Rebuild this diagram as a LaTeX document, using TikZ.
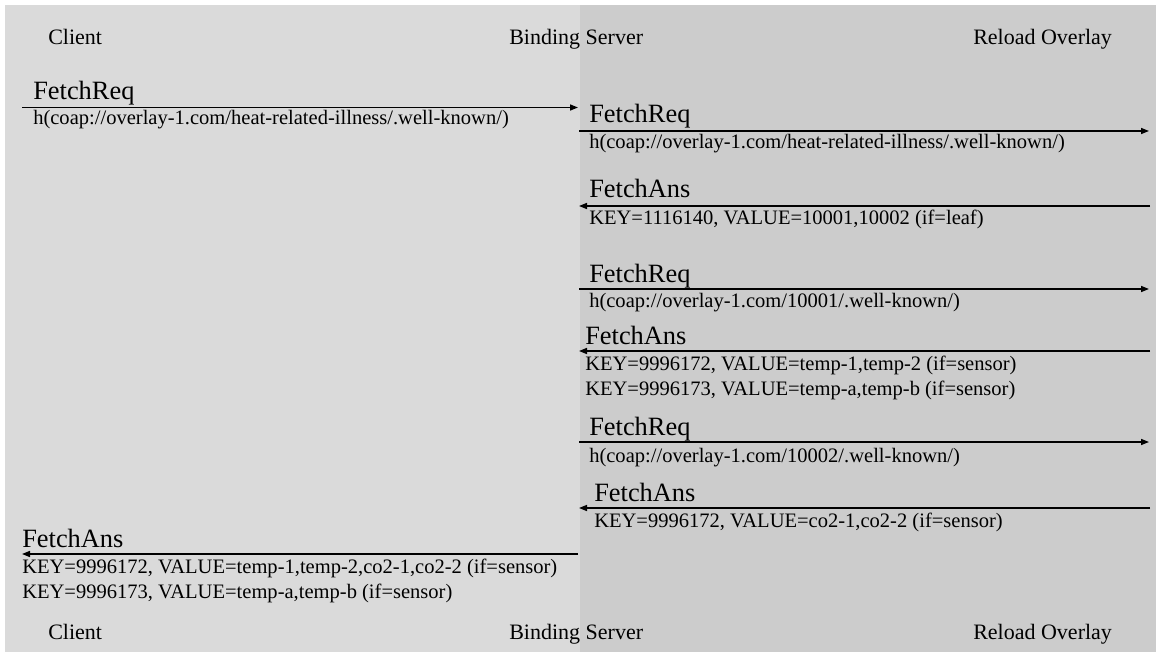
\documentclass[tikz,border=0pt]{standalone}
\usepackage{fontspec}
\setmainfont{Liberation Serif}
\usetikzlibrary{arrows.meta}
\definecolor{lightbg}{HTML}{DADADA}
\definecolor{darkbg}{HTML}{CCCCCC}
\tikzset{
  hdr/.style={anchor=base west, inner sep=0pt, font=\fontsize{16.5pt}{18pt}\selectfont},
  big/.style={anchor=base west, inner sep=0pt, font=\fontsize{19.8pt}{22pt}\selectfont},
  small/.style={anchor=base west, inner sep=0pt, font=\fontsize{15.4pt}{17pt}\selectfont},
  msg/.style={line width=1.1pt, -{Triangle[length=6pt,width=4.5pt]}}
}
\begin{document}
\begin{tikzpicture}[x=0.75pt,y=-0.75pt]
\useasboundingbox (0,0) rectangle (1156,652);
\fill[white] (0,0) rectangle (1156,652);
\fill[lightbg] (5,5) rectangle (580,652);
\fill[darkbg] (580,5) rectangle (1156,652);

% headers and footers
\node[hdr] (hc) at (48,45) {Client};
\node[hdr] (hb) at (509,45) {Binding Server};
\node[hdr] (hr) at (973,45) {Reload Overlay};
\node[hdr] (fc) at (48,639) {Client};
\node[hdr] (fb) at (509,639) {Binding Server};
\node[hdr] (fr) at (973,639) {Reload Overlay};

% endpoints
\coordinate (c1) at (22,107.5);   \coordinate (b1) at (578,107.5);
\coordinate (b2) at (579,131);    \coordinate (r2) at (1149,131);
\coordinate (r3) at (1150,206);   \coordinate (b3) at (579,206);
\coordinate (b4) at (579,289);    \coordinate (r4) at (1149,289);
\coordinate (r5) at (1150,351);   \coordinate (b5) at (579,351);
\coordinate (b6) at (579,442);    \coordinate (r6) at (1149,442);
\coordinate (r7) at (1150,508);   \coordinate (b7) at (579,508);
\coordinate (b8) at (578,554);    \coordinate (c8) at (22,554);

% 1
\draw[msg] (c1) -- (b1);
\node[big] (l1) at (33,100) {FetchReq};
\node[small] (t1) at (33,125) {h(coap://overlay-1.com/heat-related-illness/.well-known/)};
% 2
\draw[msg] (b2) -- (r2);
\node[big] (l2) at (589,123) {FetchReq};
\node[small] (t2) at (589,149) {h(coap://overlay-1.com/heat-related-illness/.well-known/)};
% 3
\draw[msg] (r3) -- (b3);
\node[big] (l3) at (589,198) {FetchAns};
\node[small] (t3) at (589,225) {KEY=1116140, VALUE=10001,10002 (if=leaf)};
% 4
\draw[msg] (b4) -- (r4);
\node[big] (l4) at (589,282) {FetchReq};
\node[small] (t4) at (589,307) {h(coap://overlay-1.com/10001/.well-known/)};
% 5
\draw[msg] (r5) -- (b5);
\node[big] (l5) at (585,344) {FetchAns};
\node[small] (t5a) at (585,370) {KEY=9996172, VALUE=temp-1,temp-2 (if=sensor)};
\node[small] (t5b) at (585,395) {KEY=9996173, VALUE=temp-a,temp-b (if=sensor)};
% 6
\draw[msg] (b6) -- (r6);
\node[big] (l6) at (589,435) {FetchReq};
\node[small] (t6) at (589,462) {h(coap://overlay-1.com/10002/.well-known/)};
% 7
\draw[msg] (r7) -- (b7);
\node[big] (l7) at (594,501) {FetchAns};
\node[small] (t7) at (594,527) {KEY=9996172, VALUE=co2-1,co2-2 (if=sensor)};
% 8
\draw[msg] (b8) -- (c8);
\node[big] (l8) at (22,547) {FetchAns};
\node[small] (t8a) at (22,573) {KEY=9996172, VALUE=temp-1,temp-2,co2-1,co2-2 (if=sensor)};
\node[small] (t8b) at (22,598) {KEY=9996173, VALUE=temp-a,temp-b (if=sensor)};
\end{tikzpicture}
\end{document}
